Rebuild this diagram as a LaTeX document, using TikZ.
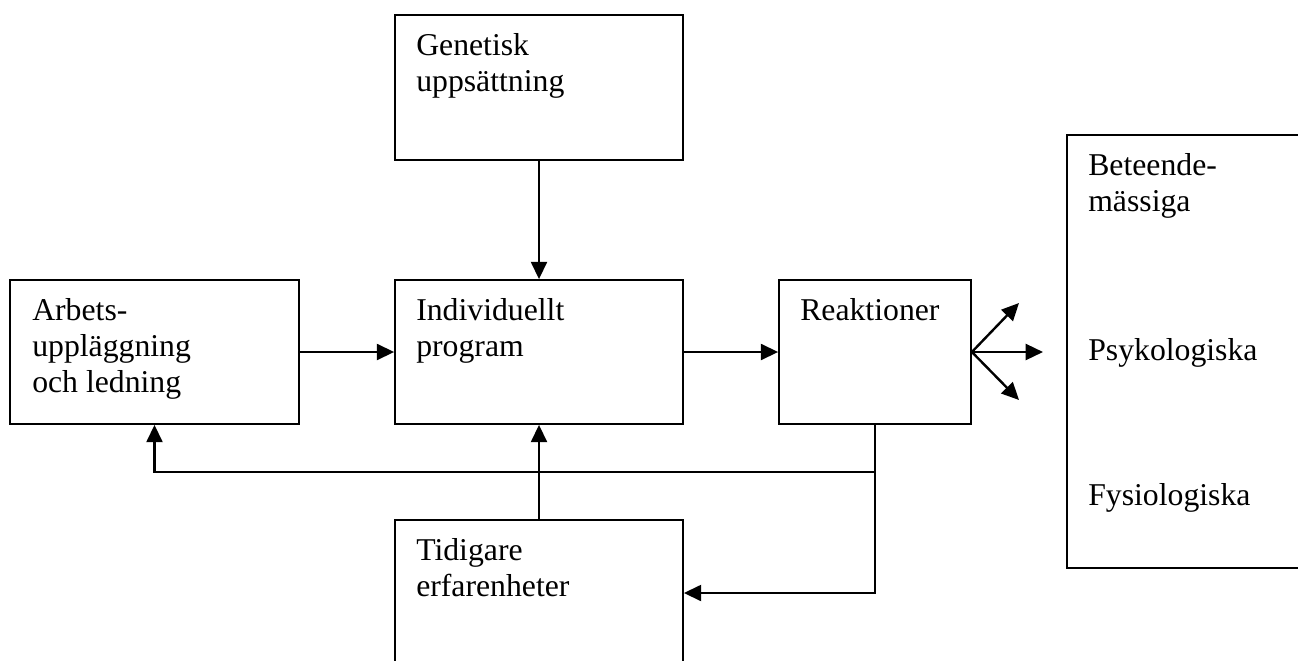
\documentclass[tikz,border=0pt]{standalone}
\usepackage{fontspec}
\setmainfont{Liberation Serif}
\usetikzlibrary{arrows.meta}
\begin{document}
\begin{tikzpicture}[x=0.75pt,y=-0.75pt,
  box/.style={draw,line width=1.3pt,rectangle,inner sep=0pt},
  txt/.style={anchor=base west,inner sep=0pt,align=left,font=\fontsize{23.8}{27}\selectfont},
  arr/.style={line width=1.8pt,-{Triangle[length=13pt,width=12pt]}}]
\useasboundingbox (0,0) rectangle (1298,660);
% boxes
\node[box,minimum width=216pt,minimum height=108.75pt] (gen) at (539,87.5) {};
\node[box,minimum width=216.75pt,minimum height=108pt] (arb) at (154.5,352) {};
\node[box,minimum width=216pt,minimum height=108pt] (ind) at (539,352) {};
\node[box,minimum width=144pt,minimum height=108pt] (rea) at (875,352) {};
\node[box,minimum width=182.25pt,minimum height=324.75pt] (out) at (1188.5,351.5) {};
\node[box,minimum width=216pt,minimum height=120pt] (tid) at (539,600) {};
% texts (anchored at the baseline of the last line)
\node[txt] (tgen) at (416,91) {Genetisk\\uppsättning};
\node[txt] (tarb) at (32,392) {Arbets-\\uppläggning\\och ledning};
\node[txt] (tind) at (416,356) {Individuellt\\program};
\node[txt] (trea) at (800,320) {Reaktioner};
\node[txt] (tout1) at (1088,211) {Beteende-\\mässiga};
\node[txt] (tout2) at (1088,360) {Psykologiska};
\node[txt] (tout3) at (1088,505) {Fysiologiska};
\node[txt] (ttid) at (416,596) {Tidigare\\erfarenheter};
% connectors
\draw[arr] (gen.south) -- (ind.north);
\draw[arr] (arb.east) -- (ind.west);
\draw[arr] (ind.east) -- (rea.west);
\coordinate (f1) at (1019,303);
\coordinate (f2) at (1043,352);
\coordinate (f3) at (1019,400);
\draw[arr] (rea.east) -- (f1);
\draw[arr] (rea.east) -- (f2);
\draw[arr] (rea.east) -- (f3);
\coordinate (c1) at (875,593);
\draw[arr] (rea.south) -- (c1) -- (c1 -| tid.east);
\coordinate (j) at (875,472);
\draw[arr] (j) -- (j -| arb.south) -- (arb.south);
\draw[arr] (tid.north) -- (ind.south);
\end{tikzpicture}
\end{document}
